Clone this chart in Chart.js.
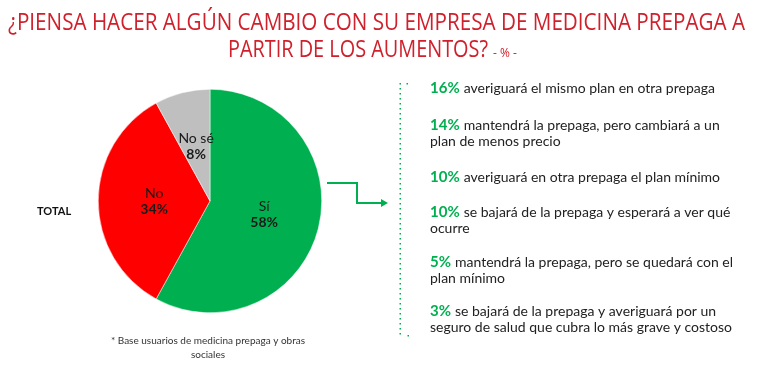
<!DOCTYPE html>
<html>
<head>
<meta charset="utf-8">
<script src="https://cdn.jsdelivr.net/npm/chart.js@4"></script>
<style>
  body { margin: 0; background: #fff; }
  canvas { display: block; }
</style>
</head>
<body>
<canvas id="pieChart" width="770" height="374"></canvas>
<script>
const titleLines = ['¿PIENSA HACER ALGÚN CAMBIO CON SU EMPRESA DE MEDICINA PREPAGA A', 'PARTIR DE LOS AUMENTOS?'];
const categories = ['Sí', 'No', 'No sé'];
const values = [58, 34, 8];
const sliceColors = ['#00B050', '#FF0000', '#BFBFBF'];
const detailPct = ['16%', '14%', '10%', '10%', '5%', '3%'];
const detailText = [
  ['averiguará el mismo plan en otra prepaga'],
  ['mantendrá la prepaga, pero cambiará a un', 'plan de menos precio'],
  ['averiguará en otra prepaga el plan mínimo'],
  ['se bajará de la prepaga y esperará a ver qué', 'ocurre'],
  ['mantendrá la prepaga, pero se quedará con el', 'plan mínimo'],
  ['se bajará de la prepaga y averiguará por un', 'seguro de salud que cubra lo más grave y costoso']
];
const detailY = [88, 125, 177, 212, 262, 311];
const footnote = ['* Base usuarios de medicina prepaga y obras', 'sociales'];

const green = '#00B050';
const bodyFont = 'Lato, "Noto Sans", sans-serif';

const decorations = {
  id: 'decorations',
  afterDatasetsDraw(chart) {
    const ctx = chart.ctx;
    ctx.save();
    // slice labels
    const meta = chart.getDatasetMeta(0);
    meta.data.forEach((arc, i) => {
      const p = arc.getProps(['x', 'y', 'startAngle', 'endAngle', 'outerRadius'], true);
      const mid = (p.startAngle + p.endAngle) / 2;
      const lx = p.x + Math.cos(mid) * p.outerRadius * 0.5;
      const ly = p.y + Math.sin(mid) * p.outerRadius * 0.5;
      ctx.fillStyle = '#1a1a1a';
      ctx.textAlign = 'center';
      ctx.textBaseline = 'middle';
      ctx.font = '14px ' + bodyFont;
      ctx.fillText(categories[i], lx, ly - 8);
      ctx.font = 'bold 14px ' + bodyFont;
      ctx.fillText(values[i] + '%', lx, ly + 8);
    });
  },
  afterDraw(chart) {
    const ctx = chart.ctx;
    ctx.save();
    // title
    ctx.fillStyle = '#D0202C';
    ctx.textBaseline = 'alphabetic';
    ctx.textAlign = 'left';
    ctx.font = '24px "Liberation Sans Narrow", "Open Sans", sans-serif';
    ctx.fillText(titleLines[0], 8, 30, 737);
    ctx.fillText(titleLines[1], 228, 57, 260);
    ctx.font = '12px "Liberation Sans Narrow", "Open Sans", sans-serif';
    ctx.fillText('- % -', 493, 57, 26);

    // TOTAL
    ctx.fillStyle = '#111';
    ctx.font = 'bold 11px ' + bodyFont;
    ctx.textBaseline = 'middle';
    ctx.fillText('TOTAL', 37, 211);

    // footnote
    ctx.fillStyle = '#333';
    ctx.font = '10px ' + bodyFont;
    ctx.textAlign = 'center';
    ctx.fillText(footnote[0], 208, 341);
    ctx.fillText(footnote[1], 208, 355);

    // arrow
    ctx.strokeStyle = green;
    ctx.fillStyle = green;
    ctx.lineWidth = 2;
    ctx.beginPath();
    ctx.moveTo(327, 183);
    ctx.lineTo(357, 183);
    ctx.lineTo(357, 203);
    ctx.lineTo(383, 203);
    ctx.stroke();
    ctx.beginPath();
    ctx.moveTo(388, 203);
    ctx.lineTo(381, 199);
    ctx.lineTo(381, 207);
    ctx.closePath();
    ctx.fill();

    // dotted bracket
    for (let y = 83; y <= 335; y += 5) {
      ctx.fillRect(399.5, y, 1.5, 1.5);
    }
    ctx.fillRect(406.5, 83, 1.5, 1.5);
    ctx.fillRect(407.5, 335, 1.5, 1.5);

    // detail list
    ctx.textAlign = 'left';
    ctx.textBaseline = 'middle';
    detailPct.forEach((pct, i) => {
      ctx.font = 'bold 15px ' + bodyFont;
      ctx.fillStyle = green;
      ctx.fillText(pct, 430, detailY[i]);
      const w = ctx.measureText(pct).width;
      ctx.font = '14px ' + bodyFont;
      ctx.fillStyle = '#222';
      detailText[i].forEach((line, j) => {
        if (j === 0) ctx.fillText(line, 430 + w + 4, detailY[i]);
        else ctx.fillText(line, 430, detailY[i] + 16.5 * j);
      });
    });
    ctx.restore();
  }
};

new Chart(document.getElementById('pieChart').getContext('2d'), {
  type: 'pie',
  data: {
    labels: categories,
    datasets: [{
      data: values,
      backgroundColor: sliceColors,
      borderColor: '#fff',
      borderWidth: 0.5
    }]
  },
  options: {
    responsive: false,
    animation: false,
    layout: { padding: { left: 98, right: 448, top: 89, bottom: 61 } },
    plugins: {
      legend: { display: false },
      tooltip: { enabled: false }
    }
  },
  plugins: [decorations]
});
</script>
</body>
</html>
